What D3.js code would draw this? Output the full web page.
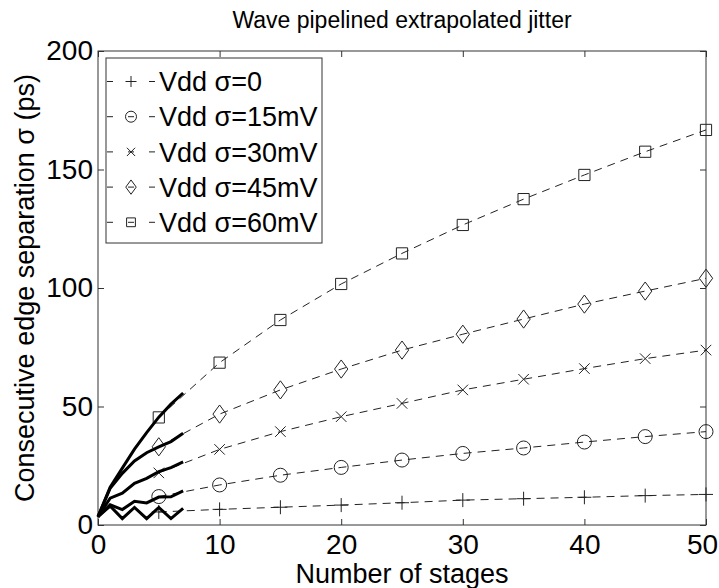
<!DOCTYPE html>
<html>
<head>
<meta charset="utf-8">
<script src="https://cdn.jsdelivr.net/npm/d3@7"></script>
<style>
  body { margin: 0; background: #fff; }
  svg { display: block; font-family: "Liberation Sans", Arial, Helvetica, sans-serif; }
</style>
</head>
<body>
<svg id="chart" width="719" height="588"></svg>
<script>
// measured stages (solid lines)
const measuredStages = [0, 1, 2, 3, 4, 5, 6, 7];
const measured0 = [3.5, 8, 2.7, 7.4, 2.7, 7.4, 2.7, 7];
const measured15 = [3.5, 8.5, 6.5, 10, 9.3, 11.8, 11.9, 14.4];
const measured30 = [3.5, 11.3, 13.4, 17.6, 19.7, 22.5, 24.2, 26.6];
const measured45 = [3.5, 15.5, 21.8, 27, 30.5, 33, 35.2, 38.7];
const measured60 = [3.5, 16, 24, 32, 39, 45.5, 51, 55.7];

// extrapolated stages (dashed lines with markers)
const extrapStages = [5, 10, 15, 20, 25, 30, 35, 40, 45, 50];
const extrap0 = [5.5, 6.6, 7.5, 8.4, 9.4, 10.5, 11.1, 11.7, 12.4, 12.9];
const extrap15 = [12, 16.9, 21, 24.3, 27.4, 30.2, 32.5, 35, 37.3, 39.4];
const extrap30 = [22, 31.9, 39.4, 45.7, 51.3, 57, 61.5, 66, 70.2, 73.8];
const extrap45 = [33, 46.8, 57, 65.8, 73.8, 80.5, 86.9, 93.2, 98.7, 104.1];
const extrap60 = [45.4, 68.5, 86.5, 101.7, 114.6, 126.6, 137.5, 147.7, 157.5, 166.7];

const seriesLabels = ["Vdd σ=0", "Vdd σ=15mV", "Vdd σ=30mV", "Vdd σ=45mV", "Vdd σ=60mV"];
const markerTypes = ["plus", "circle", "cross", "diamond", "square"];
const xTicks = [0, 10, 20, 30, 40, 50];
const yTicks = [0, 50, 100, 150, 200];

const titleText = "Wave pipelined extrapolated jitter";
const xLabelText = "Number of stages";
const yLabelText = "Consecutive edge separation σ (ps)";

const measured = [measured0, measured15, measured30, measured45, measured60];
const extrap = [extrap0, extrap15, extrap30, extrap45, extrap60];

const plotLeft = 98, plotRight = 706, plotTop = 51, plotBottom = 525;
const tickFont = 28;
const labelFont = 27;
const legendFont = 27;
const tickLen = 6;
const lineColor = "#222";

const svg = d3.select("#chart");

const x = d3.scaleLinear().domain([0, 50]).range([plotLeft, plotRight]);
const y = d3.scaleLinear().domain([0, 200]).range([plotBottom, plotTop]);

function markerPath(type, s) {
  const p = d3.path();
  if (type === "plus") {
    p.moveTo(-s, 0); p.lineTo(s, 0); p.moveTo(0, -s); p.lineTo(0, s);
  } else if (type === "circle") {
    p.moveTo(s, 0); p.arc(0, 0, s, 0, 2 * Math.PI);
  } else if (type === "cross") {
    const c = s * 0.75;
    p.moveTo(-c, -c); p.lineTo(c, c); p.moveTo(-c, c); p.lineTo(c, -c);
  } else if (type === "diamond") {
    const w = s * 0.95, h = s * 1.3;
    p.moveTo(0, -h); p.lineTo(w, 0); p.lineTo(0, h); p.lineTo(-w, 0); p.closePath();
  } else if (type === "square") {
    const c = s * 0.8;
    p.rect(-c, -c, 2 * c, 2 * c);
  }
  return p.toString();
}

// axes box
svg.append("rect")
  .attr("x", plotLeft).attr("y", plotTop)
  .attr("width", plotRight - plotLeft).attr("height", plotBottom - plotTop)
  .attr("fill", "none").attr("stroke", "#333").attr("stroke-width", 1);

const xAxis = svg.append("g")
  .attr("transform", `translate(0,${plotBottom})`)
  .call(d3.axisBottom(x).tickValues(xTicks).tickSize(-tickLen).tickPadding(9).tickSizeOuter(0));
const yAxis = svg.append("g")
  .attr("transform", `translate(${plotLeft},0)`)
  .call(d3.axisLeft(y).tickValues(yTicks).tickSize(-tickLen).tickPadding(5).tickSizeOuter(0));
const xAxisTop = svg.append("g")
  .attr("transform", `translate(0,${plotTop})`)
  .call(d3.axisTop(x).tickValues(xTicks).tickSize(-tickLen).tickFormat("").tickSizeOuter(0));
const yAxisRight = svg.append("g")
  .attr("transform", `translate(${plotRight},0)`)
  .call(d3.axisRight(y).tickValues(yTicks).tickSize(-tickLen).tickFormat("").tickSizeOuter(0));

[xAxis, yAxis, xAxisTop, yAxisRight].forEach((ax) => {
  ax.select(".domain").remove();
  ax.selectAll(".tick line").attr("stroke", "#333");
  ax.selectAll(".tick text")
    .attr("fill", "#000")
    .style("font-size", tickFont + "px")
    .style("font-family", "'Liberation Sans', Arial, sans-serif");
});

// keep the last x label inside the window
xAxis.selectAll(".tick text")
  .filter((d) => d === 50)
  .attr("dx", "-4");

// dashed extrapolation lines
const dashedLine = d3.line()
  .x((d, i) => x(extrapStages[i]))
  .y((d) => y(d));

extrap.forEach((vals, k) => {
  svg.append("path")
    .datum(vals)
    .attr("fill", "none")
    .attr("stroke", lineColor)
    .attr("stroke-width", 1)
    .attr("stroke-dasharray", "8,6")
    .attr("d", dashedLine);

  svg.append("g")
    .selectAll("path")
    .data(vals)
    .join("path")
    .attr("transform", (d, i) => `translate(${x(extrapStages[i])},${y(d)})`)
    .attr("d", markerPath(markerTypes[k], 7))
    .attr("fill", "none")
    .attr("stroke", lineColor)
    .attr("stroke-width", 1);
});

// solid measured lines
const solidLine = d3.line()
  .x((d, i) => x(measuredStages[i]))
  .y((d) => y(d));

measured.forEach((vals) => {
  svg.append("path")
    .datum(vals)
    .attr("fill", "none")
    .attr("stroke", "#000")
    .attr("stroke-width", 3)
    .attr("stroke-linejoin", "miter")
    .attr("d", solidLine);
});

// title and axis labels
svg.append("text")
  .attr("x", (plotLeft + plotRight) / 2).attr("y", 28)
  .attr("text-anchor", "middle")
  .style("font-size", "23px")
  .text(titleText);

svg.append("text")
  .attr("x", (plotLeft + plotRight) / 2).attr("y", 583)
  .attr("text-anchor", "middle")
  .style("font-size", labelFont + "px")
  .text(xLabelText);

svg.append("text")
  .attr("transform", `translate(34,${(plotTop + plotBottom) / 2}) rotate(-90)`)
  .attr("text-anchor", "middle")
  .style("font-size", labelFont + "px")
  .text(yLabelText);

// legend
const legend = svg.append("g");
legend.append("rect")
  .attr("x", 106).attr("y", 58)
  .attr("width", 216).attr("height", 185)
  .attr("fill", "#fff").attr("stroke", "#333").attr("stroke-width", 1);

const legendRows = legend.selectAll("g.row")
  .data(seriesLabels)
  .join("g")
  .attr("class", "row")
  .attr("transform", (d, i) => `translate(0,${81.5 + i * 35.2})`);

legendRows.append("line")
  .attr("x1", 107).attr("x2", 155)
  .attr("stroke", lineColor)
  .attr("stroke-width", 1)
  .attr("stroke-dasharray", "6,15,6,15,6");

legendRows.append("path")
  .attr("transform", "translate(131,0)")
  .attr("d", (d, i) => markerPath(markerTypes[i], 5.5))
  .attr("fill", "none")
  .attr("stroke", lineColor)
  .attr("stroke-width", 1);

legendRows.append("text")
  .attr("x", 159)
  .attr("dy", "0.36em")
  .style("font-size", legendFont + "px")
  .text((d) => d);
</script>
</body>
</html>
